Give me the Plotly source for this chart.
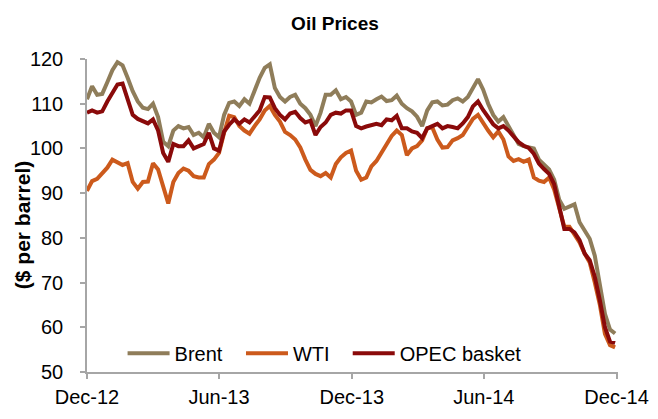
import pandas as pd
import plotly.graph_objects as go

# weekly observations, Dec 2012 - Dec 2014
dates = pd.date_range("2012-12-01", periods=105, freq="7D")

brent = [111, 113.9, 112, 112.2, 114.8, 117.5, 119.3, 118.6, 115.8, 112.8,
         110.5, 109.1, 108.8, 110, 107, 101.5, 100.5, 104, 105, 104.5,
         104.8, 103, 103.5, 102.5, 105.5, 103.5, 102.5, 107.5, 110.2, 110.5,
         109.5, 111, 110, 113.1, 115.8, 118, 118.8, 113.5, 111.5, 110.5,
         111.5, 112, 110, 109, 107.5, 105, 108, 112, 112, 113,
         111, 111.5, 110.5, 107.5, 108, 110.5, 110.3, 111, 111.6, 110.6,
         110.8, 111.8, 110, 109, 108.3, 107.1, 105, 108.5, 110.3, 110.5,
         109.6, 109.8, 110.8, 111.2, 110.5, 111.5, 113.5, 115.5, 113.2, 110,
         107.5, 106, 107, 105, 103.3, 101, 100.5, 100.3, 100, 97.5,
         96.3, 95.3, 93, 88.5, 86.5, 87, 87.5, 83.5, 81.5, 79.8,
         76, 69.8, 63, 59.5, 58.6]

wti = [90.5, 92.7, 93.2, 94.5, 95.7, 97.5, 97, 96.3, 96.7, 92.5,
       91, 92.5, 92.6, 96.7, 95.3, 91.5, 87.7, 92.5, 94.5, 95.5,
       95, 93.8, 93.5, 93.5, 96.5, 97.5, 99, 103.5, 107.3, 107,
       105, 104, 103.3, 105, 106.5, 108.5, 109.5, 107.5, 106, 103.7,
       103, 102, 100.2, 97.5, 95.2, 94.3, 93.8, 94.5, 93.5, 96.5,
       98, 99, 99.5, 95, 93, 93.5, 96, 97.2, 99, 100.6,
       102.8, 104, 103, 98.5, 100, 100.5, 101.8, 104.5, 104.7, 102,
       100.2, 100.3, 101.8, 102.3, 103, 104.8, 106.6, 107.5, 105.6, 104,
       102.5, 103.8, 102, 98.2, 97.2, 97.6, 97, 97.5, 93.5, 92.8,
       92.5, 93.5, 90.8, 87, 82.5, 82.5, 80.8, 79, 76.5, 74.5,
       70, 65, 58.5, 56, 55.5]

opec = [108, 108.5, 108, 108.3, 110.5, 112.5, 114.3, 114.5, 111, 107.5,
        106.6, 106.2, 105.6, 106.5, 104, 99, 97, 101, 100.5, 100.5,
        101.8, 100, 100.5, 101, 103.5, 100, 99.5, 103.8, 105.3, 106.5,
        105.5, 106.5, 105.8, 107.3, 108.5, 111.5, 111.4, 109, 107.5, 106.5,
        107.8, 108.2, 106.8, 105.8, 106.2, 103, 104.8, 105.8, 107.5, 108,
        107.8, 108.5, 108.5, 105, 104.5, 104.9, 105.3, 105.5, 105.2, 106.5,
        106.3, 107.3, 104.5, 104.5, 103.8, 103.5, 102.3, 104.5, 105, 105.5,
        104.5, 105, 104.8, 104.5, 105.6, 107, 109.4, 110.5, 108.6, 106.8,
        105.4, 104.5, 105, 104, 102.6, 101.4, 100.6, 100.1, 98.8, 96.6,
        95.4, 94.3, 92, 86.5, 82, 82, 81.2, 79.5, 76.5, 75,
        71.3, 66, 60, 56.8, 56.5]

tick_dates = ["2012-12-01", "2013-06-01", "2013-12-01", "2014-06-01", "2014-12-01"]
tick_labels = ["Dec-12", "Jun-13", "Dec-13", "Jun-14", "Dec-14"]

FONT = "Arial, Liberation Sans, sans-serif"
AXIS_GREY = "#a6a6a6"

fig = go.Figure()
fig.add_trace(go.Scatter(x=dates, y=brent, mode="lines", name="Brent", legend="legend",
                         line=dict(color="#8f7d5a", width=4)))
fig.add_trace(go.Scatter(x=dates, y=wti, mode="lines", name="WTI", legend="legend2",
                         line=dict(color="#cc5a1c", width=4)))
fig.add_trace(go.Scatter(x=dates, y=opec, mode="lines", name="OPEC basket", legend="legend3",
                         line=dict(color="#8a0a0a", width=4)))

leg = dict(y=0.06, xanchor="left", yanchor="middle", bgcolor="rgba(0,0,0,0)",
           font=dict(size=20), itemwidth=42)

# page body keeps its default 8px margin, so the figure is 8px smaller than the window
fig.update_layout(
    width=650, height=411,
    margin=dict(l=79, r=40, t=51, b=47),
    paper_bgcolor="white", plot_bgcolor="white",
    font=dict(family=FONT, color="black", size=19),
    title=dict(text="<b>Oil Prices</b>", x=0.503, xanchor="center",
               y=0.963, yanchor="middle", font=dict(size=19)),
    showlegend=True,
    legend=dict(leg, x=0.067),
    legend2=dict(leg, x=0.290),
    legend3=dict(leg, x=0.491),
    annotations=[dict(text="<b>($ per barrel)</b>", textangle=-90,
                      xref="paper", yref="paper", x=-0.12, y=0.47,
                      xanchor="center", yanchor="middle", showarrow=False,
                      font=dict(size=21))],
)

fig.update_xaxes(
    range=["2012-12-01", "2014-12-03"], automargin=False,
    tickvals=tick_dates, ticktext=tick_labels,
    showgrid=False, zeroline=False,
    showline=True, linecolor=AXIS_GREY, linewidth=1.5,
    ticks="outside", ticklen=5, tickcolor=AXIS_GREY, tickwidth=1.5,
    tickfont=dict(size=20), ticklabelstandoff=1,
)
fig.update_yaxes(
    range=[50, 120], dtick=10, automargin=False,
    showgrid=False, zeroline=False,
    showline=True, linecolor=AXIS_GREY, linewidth=1.5,
    ticks="outside", ticklen=5, tickcolor=AXIS_GREY, tickwidth=1.5,
    tickfont=dict(size=20), ticklabelstandoff=13,
)

fig.write_html("out.html")
